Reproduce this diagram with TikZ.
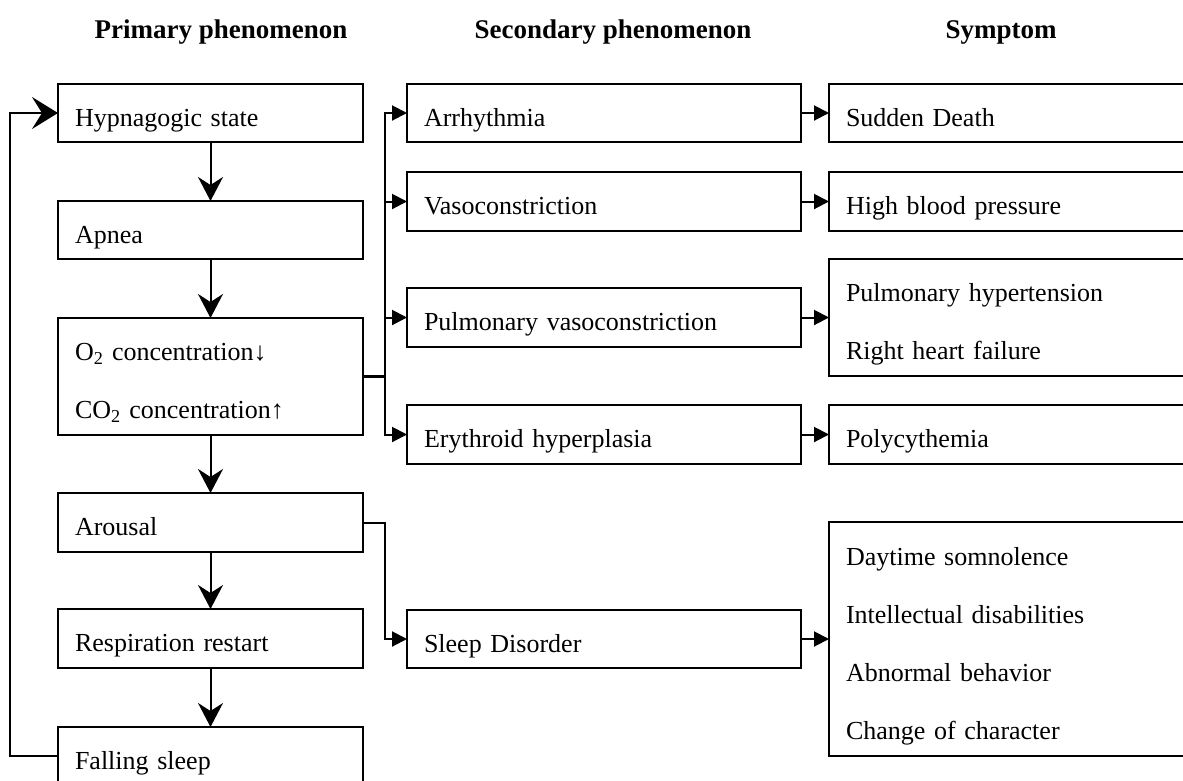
\documentclass[tikz,border=0pt]{standalone}
\usepackage{fontspec}
\setmainfont{Liberation Serif}
\usetikzlibrary{arrows.meta}

\begin{document}
\begin{tikzpicture}[x=1pt,y=-1pt, line width=2pt,
  box/.style={draw, rectangle, anchor=north west, outer sep=0pt,
    inner xsep=17pt, inner ysep=0pt, align=left,
    text height=26pt, text depth=0pt, font=\fontsize{26}{58}\selectfont},
  lines/.style={text depth=#1*58pt},
  lbox/.style={box, text width=271pt},
  mbox/.style={box, text width=360pt},
  rbox/.style={box, text width=367pt},
  head/.style={anchor=base, font=\bfseries\fontsize{27}{32}\selectfont},
  down/.style={-{Stealth[length=24pt,width=25pt,inset=8pt]}},
  back/.style={-{Stealth[length=26pt,width=32pt,inset=10pt]}},
  link/.style={-{Triangle[length=15pt,width=15pt]}}
]
\useasboundingbox (0,0) rectangle (1183,780);
\clip (0,0) rectangle (1183,780);

% column headings
\node[head] (h1) at (221,38) {Primary phenomenon};
\node[head] (h2) at (613,38) {Secondary phenomenon};
\node[head] (h3) at (1001,38) {Symptom};

% primary phenomena
\node[lbox, minimum height=58pt] (hyp) at (58,84) {Hypnagogic state};
\node[lbox, minimum height=58pt] (apn) at (58,201) {Apnea};
\node[lbox, lines=1, minimum height=117pt] (gas) at (58,318)
  {O\textsubscript{2} concentration↓\\CO\textsubscript{2} concentration↑};
\node[lbox, minimum height=59pt] (aro) at (58,493) {Arousal};
\node[lbox, minimum height=59pt] (res) at (58,609) {Respiration restart};
\node[lbox, minimum height=58pt] (fal) at (58,727) {Falling sleep};

% secondary phenomena
\node[mbox, minimum height=58pt] (arr) at (407,84) {Arrhythmia};
\node[mbox, minimum height=59pt] (vas) at (407,172) {Vasoconstriction};
\node[mbox, minimum height=59pt] (pvc) at (407,288) {Pulmonary vasoconstriction};
\node[mbox, minimum height=59pt] (ery) at (407,405) {Erythroid hyperplasia};
\node[mbox, minimum height=58pt] (slp) at (407,610) {Sleep Disorder};

% symptoms
\node[rbox, minimum height=58pt] (sud) at (829,84) {Sudden Death};
\node[rbox, minimum height=59pt] (hbp) at (829,172) {High blood pressure};
\node[rbox, lines=1, minimum height=117pt] (pht) at (829,259)
  {Pulmonary hypertension\\Right heart failure};
\node[rbox, minimum height=59pt] (pol) at (829,405) {Polycythemia};
\node[rbox, lines=3, minimum height=234pt] (day) at (829,522)
  {Daytime somnolence\\Intellectual disabilities\\Abnormal behavior\\Change of character};

% the primary cycle
\draw[down] (hyp.south) -- (apn.north);
\draw[down] (apn.south) -- (gas.north);
\draw[down] (gas.south) -- (aro.north);
\draw[down] (aro.south) -- (res.north);
\draw[down] (res.south) -- (fal.north);
\coordinate (loopx) at (10,0);
\draw[back] (fal.west) -- (fal.west -| loopx) |- (hyp.west);

% branching bus to the secondary phenomena
\coordinate (busx) at (385,0);
\draw[line width=3pt] (gas.east) -- (gas.east -| busx);
\draw[link] (gas.east -| busx) |- (arr.west);
\draw[link] (gas.east -| busx) |- (vas.west);
\draw[link] (gas.east -| busx) |- (pvc.west);
\draw[link] (gas.east -| busx) |- (ery.west);
\draw[link] (aro.east) -- (aro.east -| busx) |- (slp.west);

% secondary phenomena to symptoms
\draw[link] (arr.east) -- (sud.west);
\draw[link] (vas.east) -- (hbp.west);
\draw[link] (pvc.east) -- (pht.west);
\draw[link] (ery.east) -- (pol.west);
\draw[link] (slp.east) -- (day.west);
\end{tikzpicture}
\end{document}
